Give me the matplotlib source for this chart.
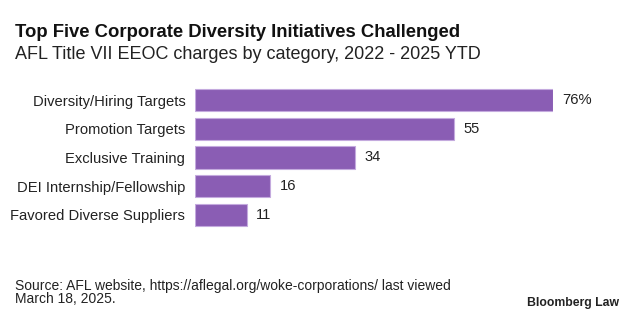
import matplotlib.pyplot as plt

categories = ["Diversity/Hiring Targets", "Promotion Targets", "Exclusive Training",
              "DEI Internship/Fellowship", "Favored Diverse Suppliers"]
values = [76, 55, 34, 16, 11]
value_labels = ["76%", "55", "34", "16", "11"]

W, H = 633, 321
plt.rcParams['font.family'] = ['Liberation Sans', 'DejaVu Sans']
fig = plt.figure(figsize=(W / 100, H / 100), dpi=100)

# axes placed in pixel coordinates
x0, x1 = 195, 553
y0, y1 = 86, 229
ax = fig.add_axes([x0 / W, 1 - y1 / H, (x1 - x0) / W, (y1 - y0) / H])

ypos = range(len(categories))
ax.barh(ypos, values, height=0.78, color="#8a5db4", edgecolor="#c4aade", linewidth=0.8)
ax.set_xlim(0, 76)
ax.set_ylim(len(categories) - 0.5, -0.5)
ax.set_yticks(list(ypos))
ax.set_yticklabels(categories, fontsize=10.6, color="#222222")
ax.tick_params(axis='y', length=0, pad=7)
ax.set_xticks([])
for s in ax.spines.values():
    s.set_visible(False)

for i, (v, lab) in enumerate(zip(values, value_labels)):
    ax.annotate(lab, (v, i), xytext=(6.5, 0), textcoords='offset points',
                va='center', ha='left', fontsize=10.6, color="#222222")

fig.text(15 / W, 1 - 37 / H, "Top Five Corporate Diversity Initiatives Challenged",
         fontsize=13.3, fontweight='bold', va='baseline', ha='left', color="#111111")
fig.text(15 / W, 1 - 59 / H, "AFL Title VII EEOC charges by category, 2022 - 2025 YTD",
         fontsize=13, va='baseline', ha='left', color="#222222")
fig.text(15 / W, 1 - 290 / H,
         "Source: AFL website, https://aflegal.org/woke-corporations/ last viewed",
         fontsize=10, va='baseline', ha='left', color="#222222")
fig.text(15 / W, 1 - 303 / H, "March 18, 2025.",
         fontsize=10, va='baseline', ha='left', color="#222222")
fig.text(619 / W, 1 - 306 / H, "Bloomberg Law", fontsize=8.8, fontweight='bold',
         va='baseline', ha='right', color="#222222")

fig.savefig("out.png", dpi=100)
